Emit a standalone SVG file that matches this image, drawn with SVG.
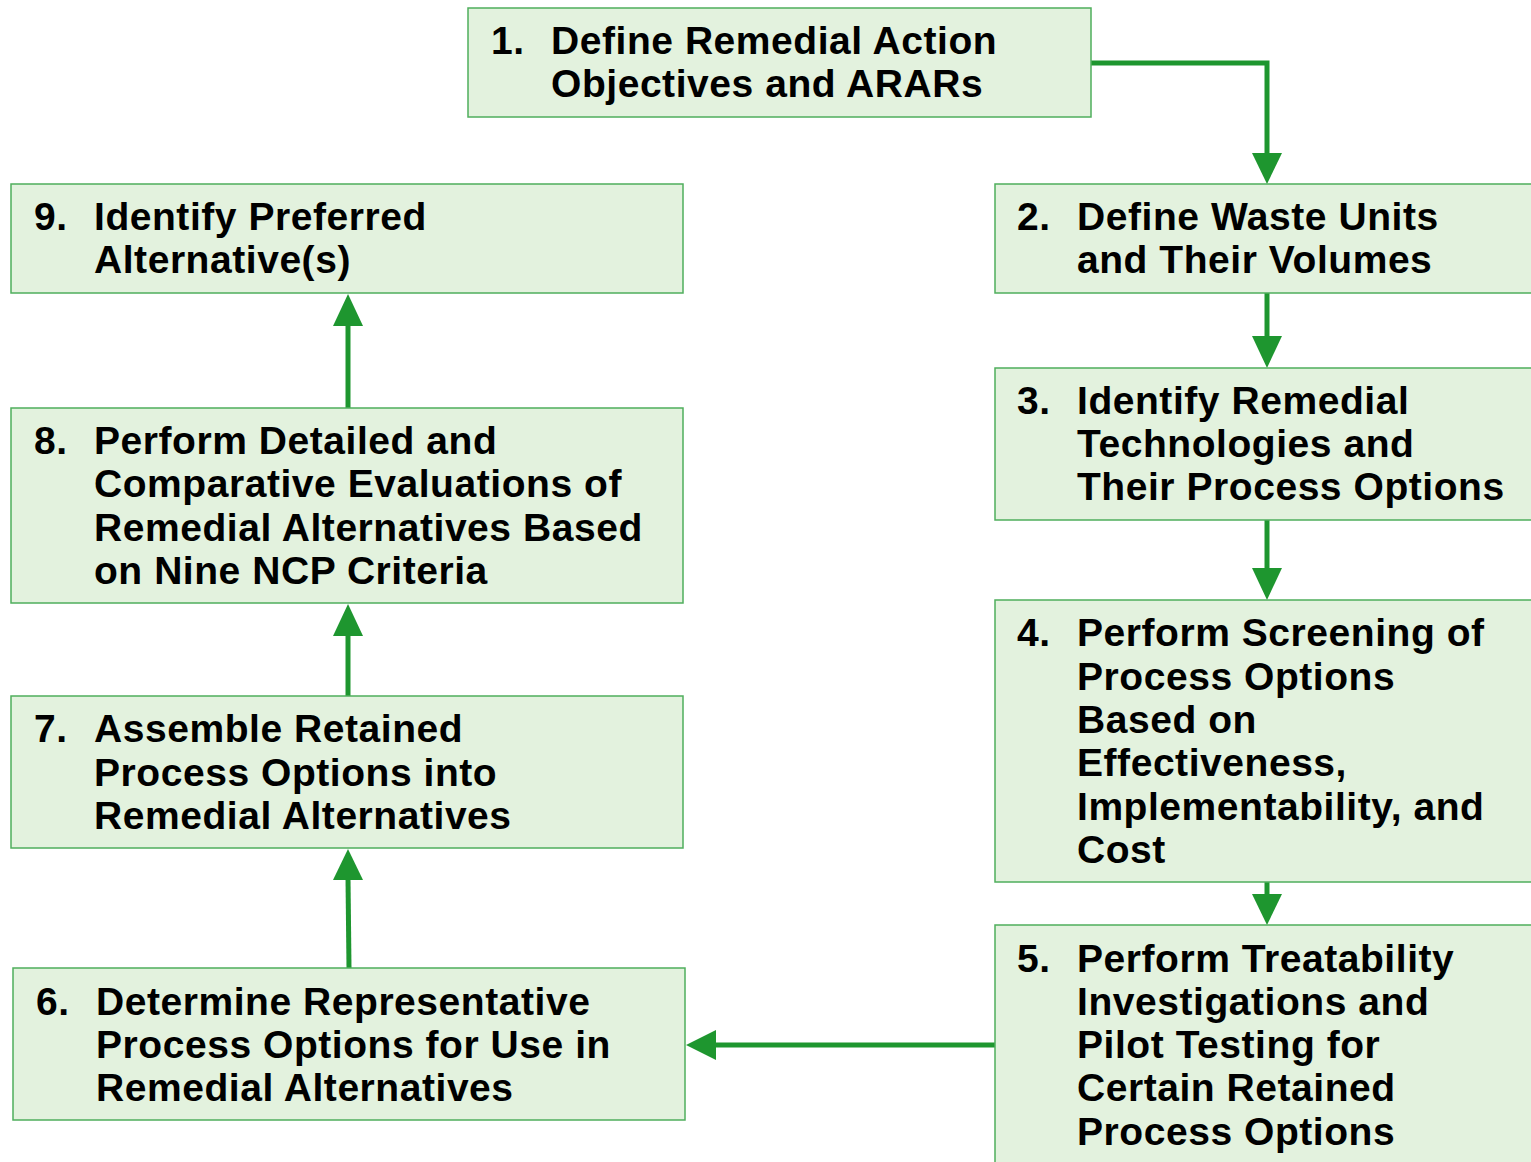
<svg xmlns="http://www.w3.org/2000/svg" width="1531" height="1162" viewBox="0 0 1531 1162">
<defs>
<style>
.box{fill:#e3f2de;stroke:#4fae5c;stroke-width:1.5}
.t{font-family:"Liberation Sans",Arial,sans-serif;font-weight:bold;font-size:39px;fill:#000;letter-spacing:0.55px}
.c{fill:none;stroke:#1e962f;stroke-width:5}
.h{fill:#1e962f}
</style>
</defs>
<rect width="1531" height="1162" fill="#fff"/>
<g id="connectors">
<polyline class="c" points="1091,63 1267,63 1267,156"/>
<polygon class="h" points="1252,153 1282,153 1267,184"/>
<line class="c" x1="1267" y1="293" x2="1267" y2="338"/>
<polygon class="h" points="1252,336 1282,336 1267,368"/>
<line class="c" x1="1267" y1="520" x2="1267" y2="570"/>
<polygon class="h" points="1252,568 1282,568 1267,600"/>
<line class="c" x1="1267" y1="882" x2="1267" y2="896"/>
<polygon class="h" points="1252,894 1282,894 1267,925"/>
<line class="c" x1="995" y1="1045" x2="714" y2="1045"/>
<polygon class="h" points="716,1030 716,1060 686,1045"/>
<line class="c" x1="349" y1="968" x2="348" y2="878"/>
<polygon class="h" points="333,880 363,880 348,849"/>
<line class="c" x1="348" y1="696" x2="348" y2="634"/>
<polygon class="h" points="333,636 363,636 348,604"/>
<line class="c" x1="348" y1="408" x2="348" y2="324"/>
<polygon class="h" points="333,326 363,326 348,294"/>
</g>
<g id="n1">
<rect class="box" x="468" y="8" width="623" height="109"/>
<text class="t" x="491" y="54">1.</text>
<text class="t"><tspan x="551" y="54">Define Remedial Action</tspan><tspan x="551" y="97">Objectives and ARARs</tspan></text>
</g>
<g id="n2">
<rect class="box" x="995" y="184" width="540" height="109"/>
<text class="t" x="1017" y="230">2.</text>
<text class="t"><tspan x="1077" y="230">Define Waste Units</tspan><tspan x="1077" y="273">and Their Volumes</tspan></text>
</g>
<g id="n3">
<rect class="box" x="995" y="368" width="540" height="152"/>
<text class="t" x="1017" y="414">3.</text>
<text class="t"><tspan x="1077" y="414">Identify Remedial</tspan><tspan x="1077" y="457">Technologies and</tspan><tspan x="1077" y="500">Their Process Options</tspan></text>
</g>
<g id="n4">
<rect class="box" x="995" y="600" width="540" height="282"/>
<text class="t" x="1017" y="646">4.</text>
<text class="t"><tspan x="1077" y="646">Perform Screening of</tspan><tspan x="1077" y="690">Process Options</tspan><tspan x="1077" y="733">Based on</tspan><tspan x="1077" y="776">Effectiveness,</tspan><tspan x="1077" y="820">Implementability, and</tspan><tspan x="1077" y="863">Cost</tspan></text>
</g>
<g id="n5">
<rect class="box" x="995" y="925" width="540" height="245"/>
<text class="t" x="1017" y="972">5.</text>
<text class="t"><tspan x="1077" y="972">Perform Treatability</tspan><tspan x="1077" y="1015">Investigations and</tspan><tspan x="1077" y="1058">Pilot Testing for</tspan><tspan x="1077" y="1101">Certain Retained</tspan><tspan x="1077" y="1145">Process Options</tspan></text>
</g>
<g id="n6">
<rect class="box" x="13" y="968" width="672" height="152"/>
<text class="t" x="36" y="1015">6.</text>
<text class="t"><tspan x="96" y="1015">Determine Representative</tspan><tspan x="96" y="1058">Process Options for Use in</tspan><tspan x="96" y="1101">Remedial Alternatives</tspan></text>
</g>
<g id="n7">
<rect class="box" x="11" y="696" width="672" height="152"/>
<text class="t" x="34" y="742">7.</text>
<text class="t"><tspan x="94" y="742">Assemble Retained</tspan><tspan x="94" y="786">Process Options into</tspan><tspan x="94" y="829">Remedial Alternatives</tspan></text>
</g>
<g id="n8">
<rect class="box" x="11" y="408" width="672" height="195"/>
<text class="t" x="34" y="454">8.</text>
<text class="t"><tspan x="94" y="454">Perform Detailed and</tspan><tspan x="94" y="497">Comparative Evaluations of</tspan><tspan x="94" y="541">Remedial Alternatives Based</tspan><tspan x="94" y="584">on Nine NCP Criteria</tspan></text>
</g>
<g id="n9">
<rect class="box" x="11" y="184" width="672" height="109"/>
<text class="t" x="34" y="230">9.</text>
<text class="t"><tspan x="94" y="230">Identify Preferred</tspan><tspan x="94" y="273">Alternative(s)</tspan></text>
</g>
</svg>
